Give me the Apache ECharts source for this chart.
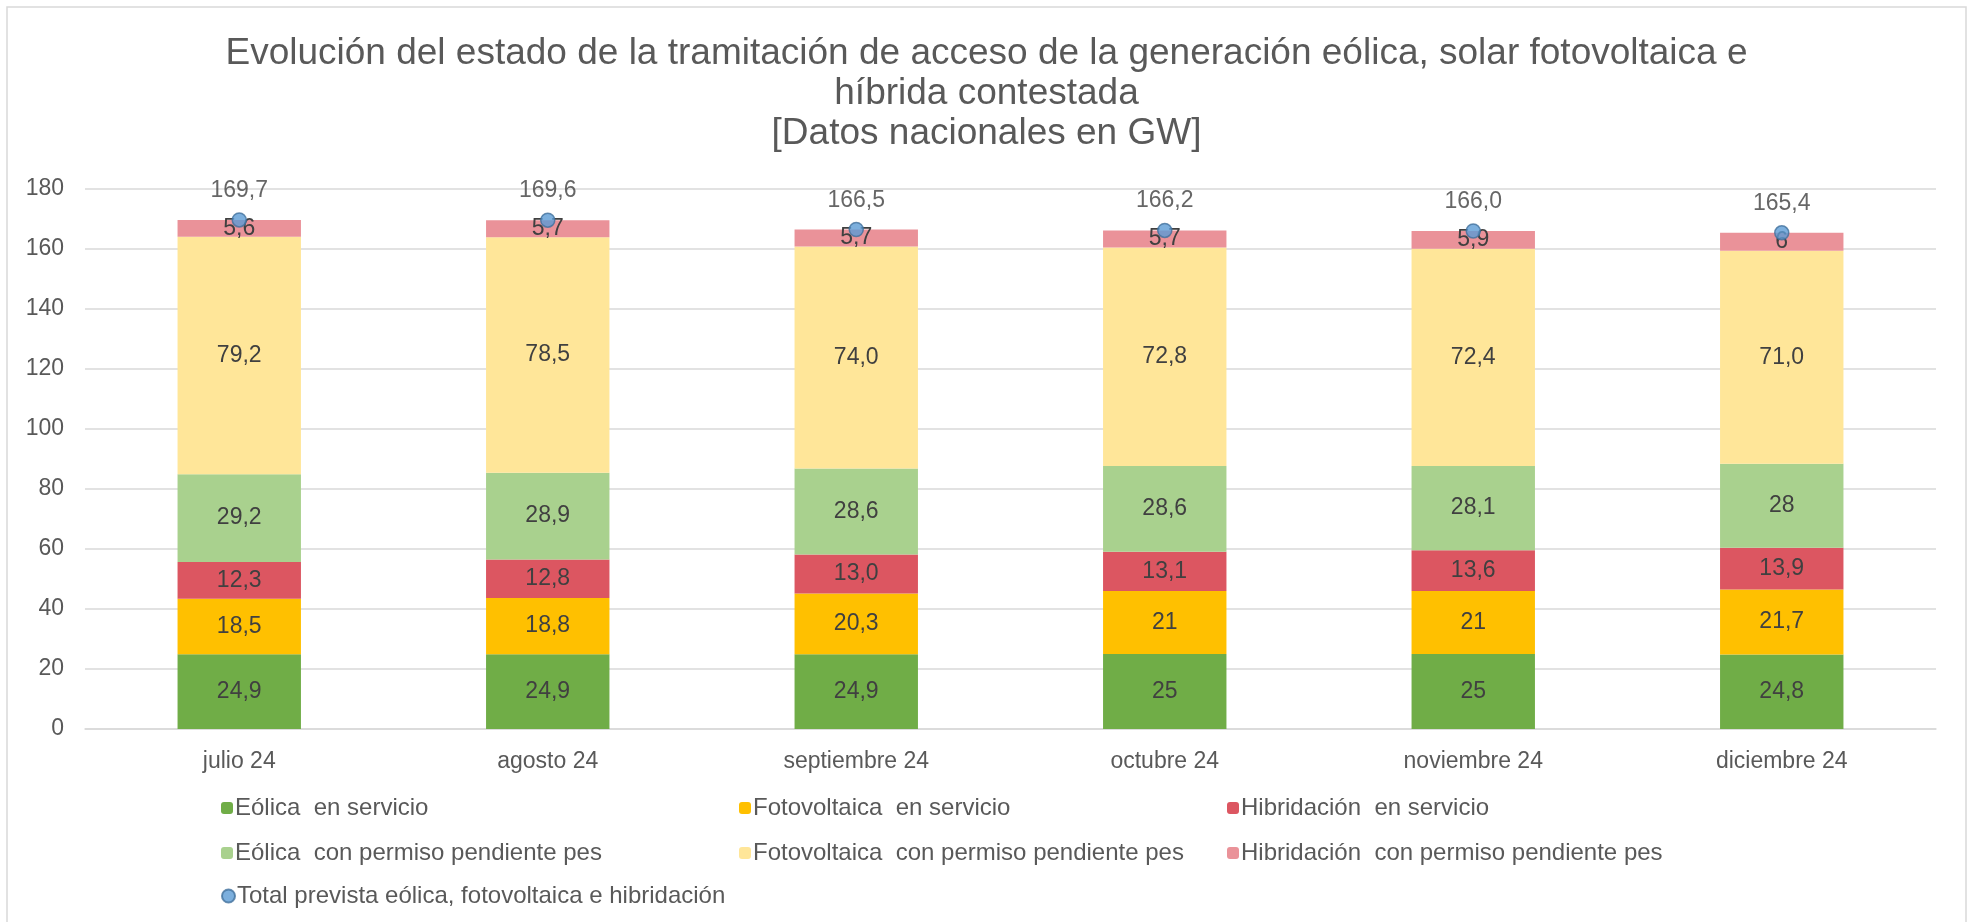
<!DOCTYPE html>
<html>
<head>
<meta charset="utf-8">
<script src="https://cdn.jsdelivr.net/npm/echarts@6/dist/echarts.min.js"></script>
<style>
  html, body { margin: 0; padding: 0; background: #fff; }
  #chart { width: 1973px; height: 922px; }
</style>
</head>
<body>
<div id="chart"></div>
<script>
// meses
const meses = ['julio 24', 'agosto 24', 'septiembre 24', 'octubre 24', 'noviembre 24', 'diciembre 24']

// valores tal como aparecen en las etiquetas (GW)
const eolicaServicio = ['24,9', '24,9', '24,9', '25', '25', '24,8']
const fotovoltaicaServicio = ['18,5', '18,8', '20,3', '21', '21', '21,7']
const hibridacionServicio = ['12,3', '12,8', '13,0', '13,1', '13,6', '13,9']
const eolicaPermiso = ['29,2', '28,9', '28,6', '28,6', '28,1', '28']
const fotovoltaicaPermiso = ['79,2', '78,5', '74,0', '72,8', '72,4', '71,0']
const hibridacionPermiso = ['5,6', '5,7', '5,7', '5,7', '5,9', '6']
const totalPrevista = ['169,7', '169,6', '166,5', '166,2', '166,0', '165,4']

const FONT = "'Liberation Sans', Arial, sans-serif"
const toNum = s => parseFloat(s.replace(',', '.'))

const barras = [
  { name: 'Eólica  en servicio', values: eolicaServicio, color: '#70AD47' },
  { name: 'Fotovoltaica  en servicio', values: fotovoltaicaServicio, color: '#FFC000' },
  { name: 'Hibridación  en servicio', values: hibridacionServicio, color: '#DC5661' },
  { name: 'Eólica  con permiso pendiente pes', values: eolicaPermiso, color: '#A9D18E' },
  { name: 'Fotovoltaica  con permiso pendiente pes', values: fotovoltaicaPermiso, color: '#FFE699' },
  { name: 'Hibridación  con permiso pendiente pes', values: hibridacionPermiso, color: '#EA9299' }
]
const nombreTotal = 'Total prevista eólica, fotovoltaica e hibridación'

// posiciones de la leyenda (3 columnas)
const colX = [221, 739, 1227]
const rowY = [796, 841, 884]
const leyendaNombres = barras.map(b => b.name).concat([nombreTotal])

const chart = echarts.init(document.getElementById('chart'))

const series = barras.map(b => ({
  name: b.name,
  type: 'bar',
  stack: 'total',
  barWidth: '40%',
  data: b.values.map(toNum),
  itemStyle: { color: b.color },
  label: {
    show: true,
    position: 'inside',
    color: '#404040',
    fontFamily: FONT,
    fontSize: 23,
    formatter: p => b.values[p.dataIndex]
  }
}))

series.push({
  name: nombreTotal,
  type: 'scatter',
  symbolSize: 14,
  z: 5,
  data: totalPrevista.map(toNum),
  itemStyle: { color: '#5B9BD5', borderColor: '#41719C', borderWidth: 1.5 },
  label: {
    show: true,
    position: 'top',
    distance: 10,
    color: '#404040',
    fontFamily: FONT,
    fontSize: 23,
    formatter: p => totalPrevista[p.dataIndex]
  }
})

const option = {
  animation: false,
  backgroundColor: '#fff',
  title: {
    text: 'Evolución del estado de la tramitación de acceso de la generación eólica, solar fotovoltaica e\nhíbrida contestada\n[Datos nacionales en GW]',
    left: 'center',
    top: 29,
    textStyle: {
      fontFamily: FONT,
      fontSize: 37,
      fontWeight: 'normal',
      color: '#595959',
      lineHeight: 40
    }
  },
  graphic: [{
    type: 'rect',
    shape: { x: 7, y: 7, width: 1959, height: 930 },
    style: { fill: 'none', stroke: '#D9D9D9', lineWidth: 1.5 },
    silent: true
  }],
  legend: leyendaNombres.map((n, i) => ({
    data: [n],
    left: colX[i % 3],
    top: rowY[Math.floor(i / 3)],
    padding: 0,
    itemWidth: i === 6 ? 13 : 12,
    itemHeight: i === 6 ? 14 : 12,
    itemGap: 0,
    selectedMode: false,
    textStyle: { fontFamily: FONT, fontSize: 24, color: '#595959', padding: [0, 0, 0, -3] }
  })),
  grid: { left: 85, right: 37, top: 189, bottom: 193, containLabel: false },
  xAxis: {
    type: 'category',
    data: meses,
    axisLine: { lineStyle: { color: '#D9D9D9', width: 1.5 } },
    axisTick: { show: false },
    axisLabel: { color: '#595959', fontFamily: FONT, fontSize: 23, margin: 21 }
  },
  yAxis: {
    type: 'value',
    min: 0,
    max: 180,
    interval: 20,
    axisLine: { show: false },
    axisTick: { show: false },
    axisLabel: { color: '#595959', fontFamily: FONT, fontSize: 23, margin: 21 },
    splitLine: { lineStyle: { color: '#D9D9D9', width: 1.5 } }
  },
  series: series
}

chart.setOption(option)
window.addEventListener('resize', () => chart.resize())
</script>
</body>
</html>
